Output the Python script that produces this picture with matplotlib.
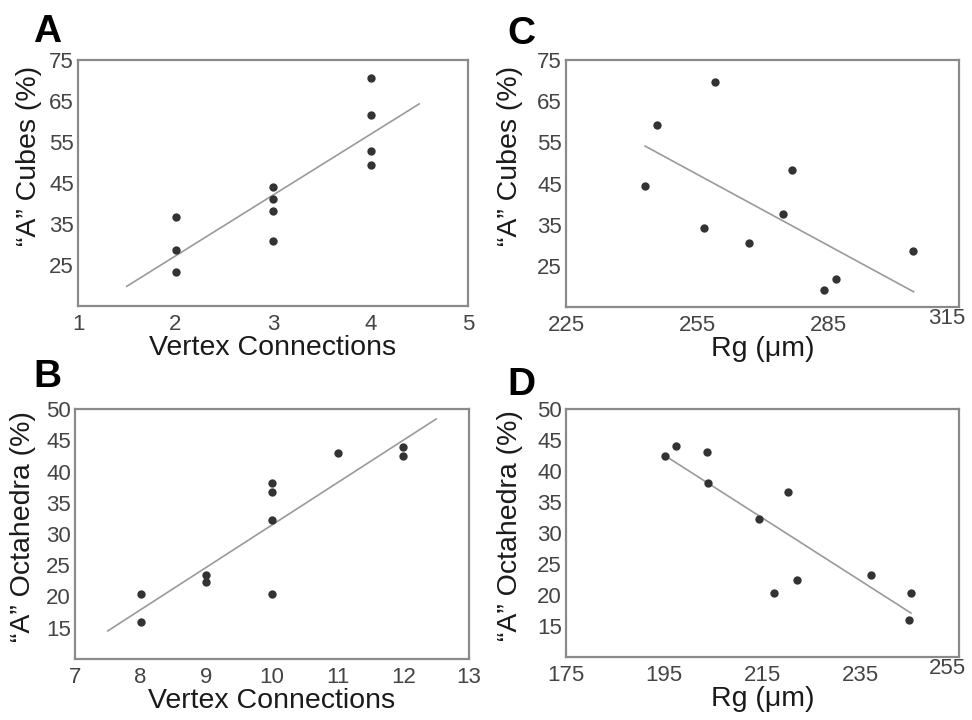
import matplotlib
matplotlib.use('Agg')
import matplotlib.pyplot as plt
import matplotlib.transforms as mtransforms
import numpy as np

plt.rcParams['font.family'] = ['Liberation Sans', 'DejaVu Sans']

# Panel A: "A" cubes vs vertex connections
a_x = [2, 2, 2, 3, 3, 3, 3, 4, 4, 4, 4]
a_y = [36.6, 28.7, 23.3, 44.1, 41.0, 38.1, 30.8, 70.6, 61.7, 52.8, 49.5]
a_fit_x = [1.5, 4.5]
a_fit_y = [19.8, 64.3]

# Panel B: "A" octahedra vs vertex connections
b_x = [8, 8, 9, 9, 10, 10, 10, 10, 11, 12, 12]
b_y = [20.4, 15.9, 23.4, 22.4, 38.1, 36.7, 32.3, 20.4, 43.0, 44.0, 42.5]
b_fit_x = [7.5, 12.5]
b_fit_y = [14.5, 48.4]

# Panel C: "A" cubes vs Rg
c_x = [243.1, 245.9, 259.2, 256.6, 266.8, 274.7, 276.8, 284.0, 286.8, 304.5]
c_y = [44.3, 59.1, 69.7, 34.1, 30.5, 37.7, 48.3, 19.2, 21.7, 28.7]
c_fit_x = [243.1, 304.6]
c_fit_y = [54.1, 18.7]

# Panel D: "A" octahedra vs Rg
d_x = [195.1, 197.4, 203.8, 203.9, 214.2, 220.1, 217.4, 222.1, 237.1, 245.2, 244.9]
d_y = [42.5, 44.1, 43.0, 38.1, 32.3, 36.6, 20.4, 22.4, 23.3, 20.4, 16.0]
d_fit_x = [195.5, 245.2]
d_fit_y = [42.3, 17.1]

cubes_label = '\u201cA\u201d Cubes (%)'
octa_label = '\u201cA\u201d Octahedra (%)'
vertex_label = 'Vertex Connections'
rg_label = 'Rg (\u03bcm)'

panels = [
    # letter, rect(px), x, y, fit_x, fit_y, xlim, xticks, ylim, yticks,
    # xlabel, ylabel, ylabel pos, letter pos, shift last xtick label
    ('A', [78, 60, 468, 306], a_x, a_y, a_fit_x, a_fit_y, (1, 5), [1, 2, 3, 4, 5],
     (15, 75), [25, 35, 45, 55, 65, 75], vertex_label, cubes_label, (-0.092, 0.61), (33, 42), False),
    ('B', [75, 409, 469, 659], b_x, b_y, b_fit_x, b_fit_y, (7, 13), [7, 8, 9, 10, 11, 12, 13],
     (10, 50), [15, 20, 25, 30, 35, 40, 45, 50], vertex_label, octa_label, (-0.10, 0.53), (33, 387), False),
    ('C', [566, 60, 959, 307], c_x, c_y, c_fit_x, c_fit_y, (225, 315), [225, 255, 285, 315],
     (15, 75), [25, 35, 45, 55, 65, 75], rg_label, cubes_label, (-0.109, 0.61), (507, 44), True),
    ('D', [566, 409, 959, 657], d_x, d_y, d_fit_x, d_fit_y, (175, 255), [175, 195, 215, 235, 255],
     (10, 50), [15, 20, 25, 30, 35, 40, 45, 50], rg_label, octa_label, (-0.109, 0.53), (507, 395), True),
]

W, H = 972, 720
fig = plt.figure(figsize=(W / 100, H / 100), dpi=100)

for (letter, rect, xs, ys, fx, fy, xlim, xticks, ylim, yticks,
     xlabel, ylabel, ylab_pos, lxy, shift_last) in panels:
    l, t, r, b = rect
    ax = fig.add_axes([l / W, 1 - b / H, (r - l) / W, (b - t) / H])
    ax.plot(fx, fy, color='#9a9a9a', linewidth=1.2, zorder=2)
    ax.scatter(xs, ys, s=36, color='#333333', zorder=3, linewidths=0)
    ax.set_xlim(*xlim)
    ax.set_ylim(*ylim)
    ax.set_xticks(xticks)
    ax.set_yticks(yticks)
    ax.tick_params(length=0, labelsize=16, labelcolor='#444444', pad=6)
    ax.tick_params(axis='y', pad=3)
    if shift_last:
        # the last x tick label sits a little left and up, inside the figure
        lab = ax.get_xticklabels()[-1]
        off = mtransforms.ScaledTranslation(-12 / 100, 7 / 100, fig.dpi_scale_trans)
        lab.set_transform(lab.get_transform() + off)
    for sp in ax.spines.values():
        sp.set_color('#8a8a8a')
        sp.set_linewidth(1.6)
    ax.set_xlabel(xlabel, fontsize=20.5, color='#1a1a1a', labelpad=0)
    ax.set_ylabel(ylabel, fontsize=20.5, color='#1a1a1a')
    ax.yaxis.set_label_coords(*ylab_pos)
    fig.text(lxy[0] / W, 1 - lxy[1] / H, letter, fontsize=28, fontweight='bold',
             ha='left', va='baseline')

fig.savefig('out.png', dpi=100)
